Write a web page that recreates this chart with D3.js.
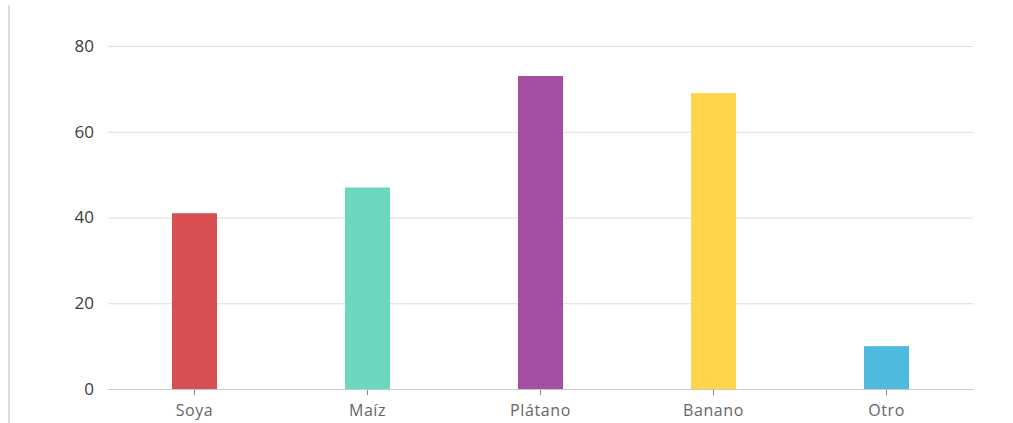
<!DOCTYPE html>
<html>
<head>
<meta charset="utf-8">
<script src="https://cdn.jsdelivr.net/npm/d3@7/dist/d3.min.js"></script>
<style>
  body { margin: 0; background: #fff; }
  text { font-family: "Open Sans", Lato, sans-serif; }
  .grid line { stroke: #dcdcdc; }
  .grid path { display: none; }
</style>
</head>
<body>
<svg width="1013" height="423"></svg>
<script>
const categories = ['Soya', 'Maíz', 'Plátano', 'Banano', 'Otro'];
const values = [41, 47, 73, 69, 10];
const colors = ['#d6474b', '#63d5bb', '#a0449d', '#ffd33f', '#45b6de'];
const yTicks = [0, 20, 40, 60, 80];

const svg = d3.select('svg');
const margin = { top: 46, right: 40, bottom: 34, left: 108 };
const width = 1013 - margin.left - margin.right;
const height = 423 - margin.top - margin.bottom;

// left border line
svg.append('line')
  .attr('x1', 9).attr('x2', 9)
  .attr('y1', 5).attr('y2', 423)
  .attr('stroke', '#dedede')
  .attr('stroke-width', 2)

const chart = svg.append('g')
  .attr('transform', `translate(${margin.left}, ${margin.top})`);

const xScale = d3.scaleBand()
  .range([0, width])
  .domain(categories)
  .paddingInner(0.74)
  .paddingOuter(0.37)

const yScale = d3.scaleLinear()
  .range([height, 0])
  .domain([0, 80]);

chart.append('g')
  .attr('class', 'grid')
  .call(d3.axisLeft(yScale)
    .tickValues(yTicks)
    .tickSize(-width)
    .tickFormat('')
  )

// y labels
chart.append('g')
  .selectAll('text')
  .data(yTicks)
  .enter()
  .append('text')
  .attr('x', -14)
  .attr('y', (d) => yScale(d))
  .attr('dy', '0.35em')
  .attr('text-anchor', 'end')
  .attr('fill', '#3c3c3c')
  .style('font-size', '17px')
  .text((d) => d)

chart.selectAll('.bar')
  .data(values)
  .enter()
  .append('rect')
  .attr('class', 'bar')
  .attr('x', (d, i) => xScale(categories[i]))
  .attr('y', (d) => yScale(d))
  .attr('width', xScale.bandwidth())
  .attr('height', (d) => height - yScale(d))
  .attr('fill', (d, i) => colors[i])
  .attr('fill-opacity', 0.95)

// x axis
const xAxis = chart.append('g')
  .attr('transform', `translate(0, ${height})`)
  .call(d3.axisBottom(xScale).tickSize(6).tickSizeOuter(0).tickPadding(10))

xAxis.select('.domain').attr('stroke', '#c8c8c8')
xAxis.selectAll('.tick line').attr('stroke', '#888').attr('y1', 1)
xAxis.selectAll('.tick text')
  .attr('fill', '#666')
  .style('font-size', '16px')
  .style('letter-spacing', '0.6px')
  .style('font-family', '"Open Sans", Lato, sans-serif')
</script>
</body>
</html>
